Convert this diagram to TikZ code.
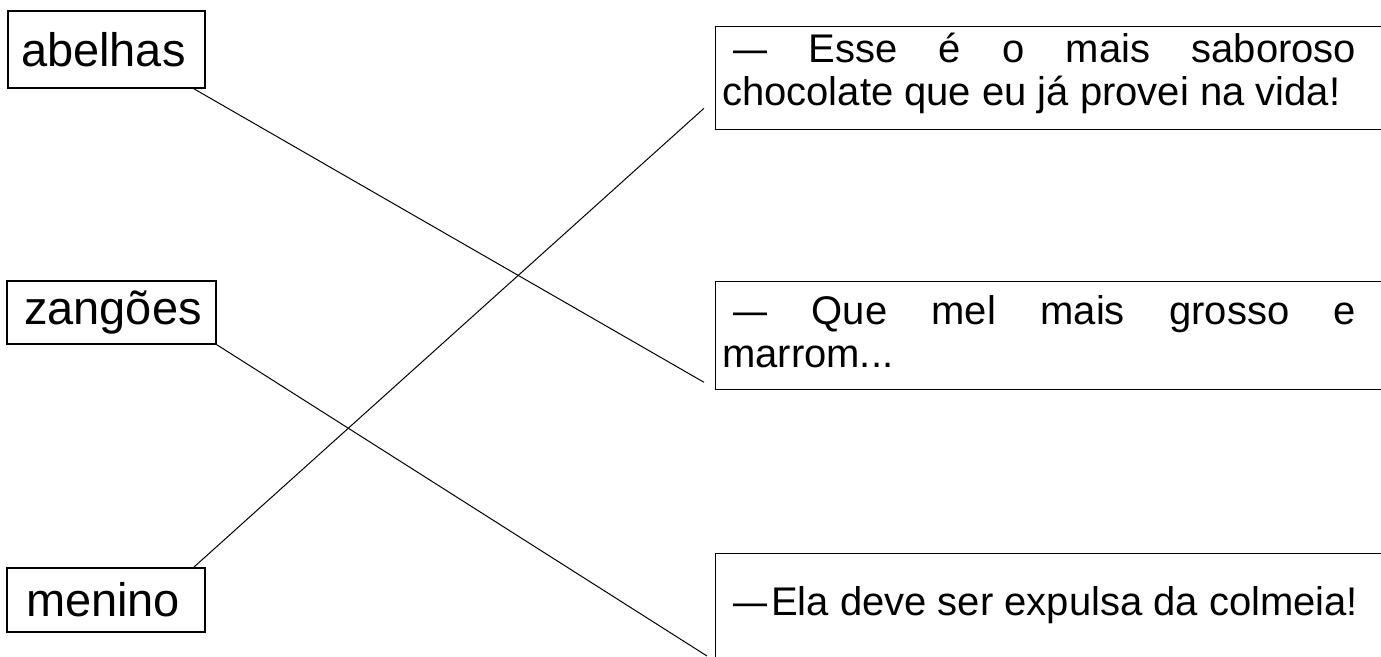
\documentclass[tikz,border=0pt]{standalone}
\usepackage{fontspec}
\usepackage{graphicx}
\setmainfont{Liberation Sans}
\usetikzlibrary{calc}
\newcommand{\mydash}{\scalebox{0.85}[1]{—}}
\begin{document}
\begin{tikzpicture}[x=1pt,y=1pt,
  lbox/.style={draw, line width=1.3pt, font=\fontsize{47}{50}\selectfont, align=left, inner ysep=0pt},
  rbox/.style={draw, line width=1.3pt, minimum width=700pt, anchor=north west, inner sep=0pt},
  rtext/.style={font=\fontsize{40}{44}\selectfont, anchor=base west, inner sep=0pt},
  link/.style={line width=1pt}]
\useasboundingbox (0,0) rectangle (1381,656);
\clip (0,0) rectangle (1381,656);
% left boxes
\node[lbox, inner xsep=13pt, text width=171pt, minimum height=77pt] (abelhas) at (106.5,606.5) {abelhas};
\node[lbox, inner xsep=17pt, text width=175pt, minimum height=63pt] (zangoes) at (111.5,343.5) {zangões};
\node[lbox, inner xsep=19pt, text width=160pt, minimum height=64pt] (menino) at (106,56) {menino};
% right boxes
\node[rbox, minimum height=103pt] (b1) at (715,630) {};
\node[rbox, minimum height=108pt] (b2) at (715,375) {};
\node[rbox, minimum height=140pt] (b3) at (715,103) {};
% texts
\node[rtext] (t1a) at ($(b1.north west)+(7,-37)$) {\makebox[634pt][s]{\hspace*{11pt}\mydash{} Esse é o mais saboroso}};
\node[rtext] (t1b) at ($(b1.north west)+(7,-80)$) {chocolate que eu já provei na vida!};
\node[rtext] (t2a) at ($(b2.north west)+(7,-44)$) {\makebox[634pt][s]{\hspace*{11pt}\mydash{} Que mel mais grosso e}};
\node[rtext] (t2b) at ($(b2.north west)+(7,-87)$) {marrom...};
\node[rtext] (t3a) at ($(b3.north west)+(18,-62)$) {\mydash{}\hspace{4pt}Ela deve ser expulsa da colmeia!};
% connectors
\draw[link] ($(abelhas.south east)+(-12,0)$) -- ($(b2.south west)+(-11,8)$);
\draw[link] ($(menino.north east)+(-12,0)$) -- ($(b1.south west)+(-11,22)$);
\draw[link] (zangoes.south east) -- ($(b3.north west)+(-8,-103)$);
\end{tikzpicture}
\end{document}
